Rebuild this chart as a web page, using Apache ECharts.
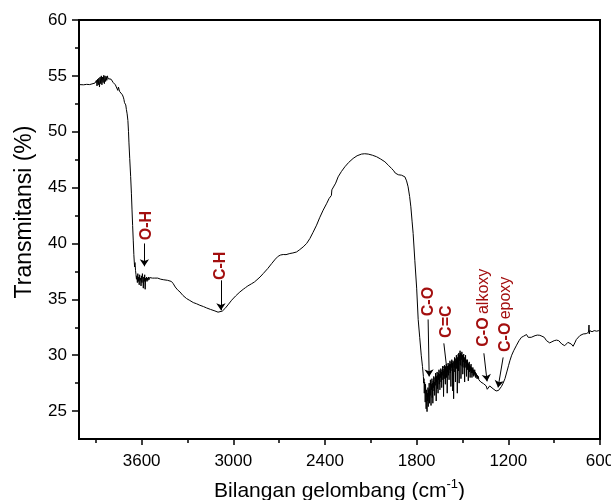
<!DOCTYPE html>
<html>
<head>
<meta charset="utf-8">
<script src="https://cdn.jsdelivr.net/npm/echarts@6/dist/echarts.min.js"></script>
<style>
  html, body { margin: 0; padding: 0; background: #fff; }
  #chart { width: 611px; height: 500px; }
</style>
</head>
<body>
<div id="chart"></div>
<script>
// spectrum: [wavenumber cm-1, transmittance %]
var plateau = [
  [4010, 54.22], [4000, 54.22], [3980, 54.2], [3960, 54.24], [3940, 54.22], [3925, 54.28], [3915, 54.3], [3905, 54.36],
  [3900, 54.3], [3896, 54.6], [3892, 54.1], [3888, 54.7], [3884, 54.2], [3880, 54.8], [3876, 54.0], [3872, 54.9],
  [3868, 54.3], [3864, 55.0], [3860, 54.2], [3856, 54.9], [3852, 54.4], [3848, 55.05], [3844, 54.3], [3840, 55.0],
  [3836, 54.5], [3832, 54.95], [3828, 54.6], [3824, 55.0], [3820, 54.75], [3814, 54.9], [3808, 54.8], [3800, 54.7],
  [3792, 54.6], [3786, 54.4], [3780, 54.45], [3772, 54.2], [3766, 54.25], [3760, 54.1], [3756, 53.7], [3752, 54.0],
  [3748, 53.8], [3744, 53.6], [3738, 53.5], [3732, 53.45], [3726, 53.3], [3720, 53.1], [3716, 52.9], [3712, 52.6],
  [3708, 52.7], [3704, 52.4], [3700, 52.0]
];
var ohBand = [
  [3695, 51.6], [3690, 51.0], [3686, 50.0], [3683, 49.0], [3678, 47.6], [3672, 46.0], [3667, 44.5], [3663, 43.0],
  [3659, 41.6], [3655, 40.3], [3651, 39.0], [3648, 38.3], [3646, 37.9], [3644, 38.3], [3642, 38.0], [3640, 37.6],
  [3637, 37.2], [3634, 36.8], [3631, 37.1], [3628, 36.5], [3625, 37.3], [3622, 36.6], [3619, 37.0], [3616, 36.3],
  [3613, 37.2], [3610, 36.7], [3607, 36.9], [3604, 36.2], [3601, 37.1], [3598, 36.5], [3595, 37.3], [3592, 36.8],
  [3589, 36.0], [3586, 37.0], [3583, 36.6], [3580, 37.2], [3577, 35.9], [3574, 36.9], [3571, 36.7], [3568, 37.0],
  [3565, 36.6], [3562, 36.9], [3559, 36.7], [3556, 37.0], [3552, 36.75], [3548, 36.95], [3544, 36.8], [3540, 36.9],
  [3535, 36.8], [3530, 36.9], [3522, 36.95], [3514, 36.9], [3505, 36.98], [3495, 36.9], [3485, 36.85], [3475, 36.8],
  [3465, 36.7], [3455, 36.75], [3445, 36.6], [3430, 36.7], [3420, 36.75], [3405, 36.6], [3393, 36.4]
];
var chValley = [
  [3380, 36.1], [3365, 35.85], [3349, 35.66], [3330, 35.35], [3306, 35.07], [3285, 34.9], [3262, 34.71], [3240, 34.6],
  [3219, 34.47], [3195, 34.35], [3175, 34.23], [3150, 34.1], [3120, 33.96], [3100, 33.85], [3088, 33.78], [3072, 33.95],
  [3055, 34.17], [3035, 34.5], [3011, 34.92], [2985, 35.3], [2957, 35.66], [2935, 35.9], [2920, 36.05], [2915, 35.98],
  [2905, 36.2], [2880, 36.4], [2862, 36.55], [2855, 36.7], [2845, 36.75], [2825, 37.0], [2804, 37.31], [2775, 37.75],
  [2749, 38.2], [2725, 38.6], [2706, 38.86], [2690, 38.97], [2673, 39.01], [2655, 39.0], [2630, 39.1], [2610, 39.15],
  [2586, 39.24]
];
var broadHump = [
  [2565, 39.45], [2543, 39.69], [2520, 40.0], [2499, 40.44], [2478, 41.0], [2455, 41.64], [2435, 42.3], [2412, 42.98],
  [2390, 43.55], [2373, 44.03], [2362, 44.2], [2358, 44.3], [2355, 44.8], [2350, 44.7], [2346, 44.92], [2330, 45.4],
  [2314, 45.96], [2292, 46.45], [2270, 46.86], [2245, 47.25], [2216, 47.61], [2190, 47.85], [2161, 48.0], [2140, 48.03],
  [2117, 48.0], [2090, 47.9], [2062, 47.76], [2035, 47.55], [2008, 47.31], [1985, 47.0], [1964, 46.71], [1950, 46.5],
  [1940, 46.3], [1932, 46.26], [1920, 46.15], [1910, 46.2], [1899, 46.11], [1888, 46.05], [1877, 45.96], [1866, 45.6],
  [1856, 45.07], [1846, 44.2], [1838, 43.28], [1830, 42.0], [1823, 40.89], [1812, 38.5], [1800, 36.0], [1790, 33.2],
  [1780, 31.6], [1770, 30.0], [1762, 29.0]
];
var carbonylNoise = [
  [1756, 28.1], [1754, 27.5], [1752, 27.9], [1750, 26.6], [1748, 27.6], [1746, 27.1], [1744, 25.8], [1742, 27.4],
  [1740, 26.5], [1738, 25.2], [1736, 26.9], [1734, 26.2], [1732, 24.95], [1730, 26.6], [1728, 25.9], [1726, 27.1],
  [1724, 25.4], [1722, 26.9], [1720, 26.3], [1718, 27.5], [1716, 25.7], [1714, 27.0], [1712, 26.4], [1710, 27.8],
  [1708, 26.8], [1706, 25.5], [1704, 27.4], [1702, 26.9], [1700, 27.9], [1698, 26.2], [1696, 27.5], [1694, 25.7],
  [1692, 27.7], [1690, 27.1], [1688, 28.1], [1686, 26.8], [1684, 27.6], [1682, 26.4], [1680, 28.0], [1678, 27.3],
  [1676, 28.4], [1674, 27.5], [1672, 25.9], [1670, 28.1], [1668, 27.6], [1666, 28.5], [1664, 27.0], [1662, 28.2],
  [1660, 26.6], [1658, 28.4], [1656, 27.8], [1654, 28.7], [1652, 27.4], [1650, 28.3], [1648, 26.9], [1646, 28.6],
  [1644, 28.0], [1642, 28.8], [1640, 27.6], [1638, 28.5], [1636, 27.1], [1634, 28.7], [1632, 28.2], [1630, 29.0],
  [1628, 27.8], [1626, 28.6], [1624, 26.3], [1622, 28.8], [1620, 28.1], [1618, 29.1], [1616, 27.9], [1614, 28.7],
  [1612, 27.4], [1610, 29.0], [1608, 28.4], [1606, 29.2], [1604, 28.0], [1602, 28.8], [1600, 26.6], [1598, 29.0],
  [1596, 28.5], [1594, 29.3], [1592, 28.2], [1590, 29.1], [1588, 27.8], [1586, 29.2], [1584, 28.7], [1582, 29.5],
  [1580, 28.4], [1578, 29.2], [1576, 27.2], [1574, 29.4], [1572, 28.9], [1570, 29.6], [1568, 28.6], [1566, 29.3],
  [1564, 26.8], [1562, 29.5], [1560, 28.8], [1558, 26.1], [1556, 29.4], [1554, 28.9], [1552, 29.8], [1550, 28.5],
  [1548, 29.5], [1546, 27.6], [1544, 29.7], [1542, 29.1], [1540, 30.0], [1538, 28.8], [1536, 29.6], [1534, 26.6],
  [1532, 29.8], [1530, 29.2], [1528, 30.1], [1526, 28.6], [1524, 30.2], [1522, 27.5], [1520, 30.0], [1518, 29.5],
  [1516, 30.4], [1514, 29.1], [1512, 30.2], [1510, 27.9], [1508, 30.1], [1506, 29.6], [1504, 30.3], [1502, 29.0],
  [1500, 30.0], [1498, 28.3], [1496, 29.9], [1494, 29.4], [1492, 30.1], [1490, 28.9], [1488, 29.8], [1486, 27.6],
  [1484, 29.7], [1482, 29.3], [1480, 30.0], [1478, 28.9], [1476, 29.6], [1474, 28.1], [1472, 29.5], [1470, 29.0],
  [1468, 29.6], [1466, 28.7], [1464, 29.3], [1462, 27.7], [1460, 29.2], [1458, 28.8], [1456, 29.4], [1454, 28.5],
  [1452, 29.1], [1450, 28.0], [1448, 29.0], [1446, 28.6], [1444, 29.2], [1442, 28.4], [1440, 28.9], [1438, 28.0],
  [1436, 28.8], [1434, 28.4], [1432, 28.9], [1430, 28.2], [1428, 28.7], [1426, 28.1], [1424, 28.6], [1422, 28.3],
  [1420, 28.7], [1418, 28.2], [1416, 28.5], [1414, 28.0], [1412, 28.4], [1410, 28.1], [1408, 28.3], [1405, 27.9],
  [1402, 28.2], [1399, 27.9], [1396, 28.1], [1393, 27.8], [1390, 27.95], [1387, 27.7], [1384, 27.8], [1380, 27.6],
  [1376, 27.65], [1372, 27.55], [1368, 27.5]
];
var fingerprint = [
  [1362, 27.45], [1354, 27.35], [1345, 27.25], [1338, 26.95], [1332, 27.1], [1322, 27.25], [1312, 27.2], [1300, 27.0],
  [1290, 26.85], [1280, 26.8], [1272, 26.8], [1264, 26.85], [1256, 26.95], [1245, 27.2], [1234, 27.5], [1222, 27.9],
  [1210, 28.5], [1198, 29.1], [1190, 29.5], [1178, 30.0], [1165, 30.4], [1146, 30.9], [1130, 31.3], [1114, 31.6],
  [1100, 31.7], [1090, 31.8], [1081, 31.85], [1070, 31.6], [1059, 31.5], [1050, 31.6], [1038, 31.7], [1025, 31.75],
  [1010, 31.8], [994, 31.78], [980, 31.7], [965, 31.6], [950, 31.3], [940, 31.15], [929, 31.1], [915, 31.2],
  [900, 31.3], [885, 31.35], [870, 31.3], [863, 31.3], [850, 31.0], [840, 30.9], [831, 30.85], [820, 31.0],
  [810, 31.15], [798, 31.2], [788, 31.0], [776, 30.8], [765, 31.1], [755, 31.4], [743, 31.5], [732, 31.75],
  [721, 31.9], [710, 31.9], [700, 31.95], [690, 31.93], [682, 32.0], [675, 32.05], [672, 32.7], [670, 31.9],
  [667, 32.2], [660, 32.05], [652, 32.1], [645, 32.08], [638, 32.2], [630, 32.05], [622, 32.15], [615, 32.2],
  [608, 32.2], [600, 32.25]
];

// band annotations
var bandNames = ['O-H', 'C-H', 'C-O', 'C=C', 'C-O alkoxy', 'C-O epoxy'];
var labelAt = [[3569, 41.6], [3081, 38.0], [1725, 34.8], [1604, 33.0], [1365, 34.25], [1218, 33.66]];
var arrowFrom = [[3582, 40.0], [3081, 36.7], [1725, 33.2], [1622, 31.06], [1360, 30.17], [1234, 29.8]];
var arrowTo = [[3582, 37.96], [3081, 34.02], [1718, 28.1], [1600, 28.47], [1339, 27.66], [1267, 27.12]];

// axes
var xTicks = [3600, 3000, 2400, 1800, 1200, 600];
var xMinorTicks = [3900, 3300, 2700, 2100, 1500, 900];
var yTicks = [25, 30, 35, 40, 45, 50, 55, 60];
var yMinorTicks = [27.5, 32.5, 37.5, 42.5, 47.5, 52.5, 57.5];

var spectrum = plateau.concat(ohBand, chValley, broadHump, carbonylNoise, fingerprint);

var FONT = 'Arial, "Liberation Sans", sans-serif';
var RED = '#a30f0f';

var chart = echarts.init(document.getElementById('chart'));

var labelPoints = bandNames.map(function (name, i) {
  var parts = name.split(' ');
  var txt = '{b|' + parts[0] + '}' + (parts[1] ? ' {r|' + parts[1] + '}' : '');
  return { coord: labelAt[i], value: txt };
});
var arrows = arrowFrom.map(function (p, i) {
  return [{ coord: p }, { coord: arrowTo[i] }];
});

var option = {
  animation: false,
  grid: {
    left: 79, right: 11, top: 20, bottom: 61,
    outerBoundsMode: 'none',
    show: true, borderColor: '#000', borderWidth: 2, backgroundColor: 'transparent'
  },
  xAxis: [{
    type: 'value', inverse: true, min: 600, max: 4010,
    name: 'Bilangan gelombang (cm{sup|-1})',
    nameLocation: 'middle', nameGap: 39,
    nameTextStyle: {
      color: '#000', fontSize: 21, fontFamily: FONT, lineHeight: 26,
      rich: { sup: { fontSize: 13, fontFamily: FONT, color: '#000', verticalAlign: 'top', lineHeight: 14 } }
    },
    axisLine: { lineStyle: { color: '#000', width: 2 } },
    axisTick: { customValues: xTicks, length: 6, lineStyle: { color: '#000', width: 1.5 } },
    axisLabel: {
      customValues: xTicks, color: '#000', fontSize: 17, fontFamily: FONT, margin: 14,
      formatter: function (v) { return String(v); }
    },
    splitLine: { show: false }
  }, {
    type: 'value', inverse: true, min: 600, max: 4010, position: 'bottom',
    axisLine: { show: false },
    axisTick: { customValues: xMinorTicks, length: 4, lineStyle: { color: '#000', width: 1.5 } },
    axisLabel: { show: false },
    splitLine: { show: false }
  }],
  yAxis: [{
    type: 'value', min: 22.5, max: 60,
    name: 'Transmitansi (%)',
    nameLocation: 'middle', nameGap: 43,
    nameTextStyle: { color: '#000', fontSize: 23, fontFamily: FONT, padding: [0, 0, 0, 35] },
    axisLine: { show: true, lineStyle: { color: '#000', width: 2 } },
    axisTick: { show: true, customValues: yTicks, length: 7, lineStyle: { color: '#000', width: 1.5 } },
    axisLabel: {
      customValues: yTicks, color: '#000', fontSize: 17, fontFamily: FONT, margin: 12,
      formatter: function (v) { return String(v); }
    },
    splitLine: { show: false }
  }, {
    type: 'value', min: 22.5, max: 60, position: 'left',
    axisLine: { show: false },
    axisTick: { show: true, customValues: yMinorTicks, length: 4, lineStyle: { color: '#000', width: 1.5 } },
    axisLabel: { show: false },
    splitLine: { show: false }
  }],
  series: [{
    type: 'line',
    data: spectrum,
    showSymbol: false,
    symbol: 'none',
    lineStyle: { color: '#000', width: 1 },
    silent: true,
    markLine: {
      silent: true,
      symbol: ['none', 'arrow'],
      symbolSize: 7,
      label: { show: false },
      lineStyle: { color: '#000', width: 1, type: 'solid' },
      data: arrows
    },
    markPoint: {
      silent: true,
      symbol: 'circle',
      symbolSize: 1,
      itemStyle: { color: 'transparent' },
      label: {
        show: true,
        position: 'inside',
        rotate: 90,
        formatter: function (p) { return p.value; },
        rich: {
          b: { fontSize: 16, fontWeight: 'bold', color: RED, fontFamily: FONT },
          r: { fontSize: 16, color: RED, fontFamily: FONT }
        }
      },
      data: labelPoints
    }
  }]
};

chart.setOption(option);
</script>
</body>
</html>
